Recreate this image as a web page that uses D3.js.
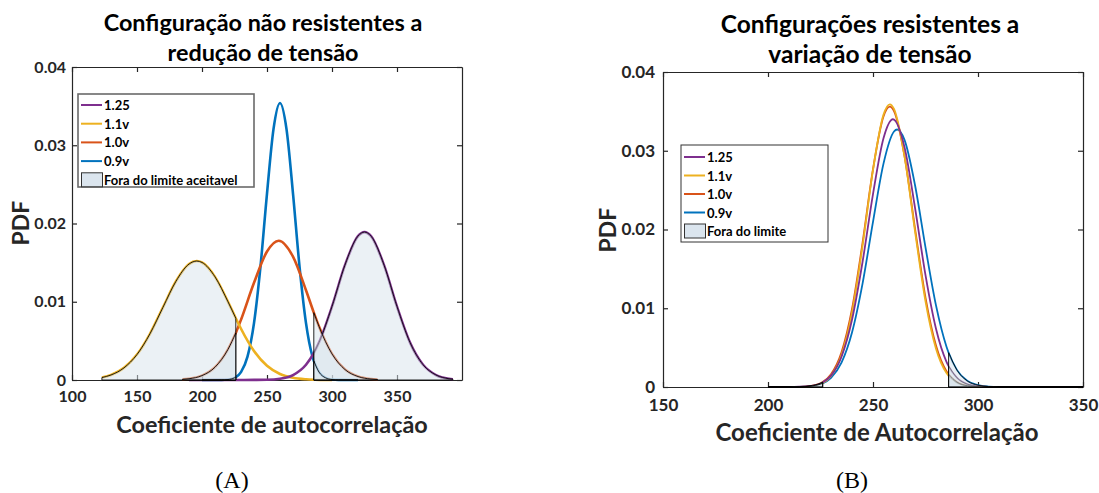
<!DOCTYPE html>
<html>
<head>
<meta charset="utf-8">
<script src="https://cdn.jsdelivr.net/npm/d3@7"></script>
<style>
body { margin: 0; background: #fff; }
</style>
</head>
<body>
<svg id="chart" width="1099" height="493"></svg>
<script>

var seriesNames = ["1.25", "1.1v", "1.0v", "0.9v"];
var yTicks = [0, 0.01, 0.02, 0.03, 0.04];
var leftXTicks = [100, 150, 200, 250, 300, 350];
var rightXTicks = [150, 200, 250, 300, 350];
var limits = [226, 286]; // "fora do limite" below / above these

// panel A, [coeficiente, pdf]
var leftPurple = [[190, 0], [220, 0], [226, 0], [240, 0.00001], [250, 0.00003], [260, 0.00016], [270, 0.00063], [280, 0.00195], [286, 0.00342], [290, 0.00478], [300, 0.00937], [310, 0.01468], [320, 0.01838], [325, 0.0189], [330, 0.01838], [340, 0.01468], [350, 0.00937], [360, 0.00478], [370, 0.00195], [380, 0.00063], [390, 0.00016], [393, 0.0001]];
var leftYellow = [[123, 0.00031], [130, 0.00064], [140, 0.00155], [150, 0.00325], [160, 0.00591], [170, 0.00929], [180, 0.01262], [190, 0.01481], [196, 0.0152], [200, 0.01502], [210, 0.01318], [220, 0.00999], [226, 0.00789], [230, 0.00655], [240, 0.00371], [250, 0.00182], [260, 0.00077], [270, 0.00028], [280, 0.00009], [286, 0.00004], [290, 0.00002], [300, 0]];
var leftOrange = [[185, 0.00008], [190, 0.00016], [200, 0.00056], [210, 0.00163], [220, 0.00391], [226, 0.00601], [230, 0.0077], [240, 0.01242], [250, 0.01642], [259, 0.0178], [270, 0.01577], [280, 0.01147], [286, 0.00861], [290, 0.00683], [300, 0.00333], [310, 0.00133], [320, 0.00044], [330, 0.00012], [335, 0.00006]];
var leftBlue = [[200, 0], [215, 0.00001], [220, 0.00006], [225, 0.00028], [226, 0.00037], [230, 0.00101], [235, 0.00298], [240, 0.00727], [245, 0.01453], [250, 0.02383], [255, 0.03206], [260, 0.0354], [265, 0.03206], [270, 0.02383], [275, 0.01453], [280, 0.00727], [285, 0.00298], [286, 0.00244], [290, 0.00101], [295, 0.00028], [300, 0.00006], [305, 0.00001], [320, 0]];

// panel B
var rightPurple = [[200, 0], [210, 0], [215, 0.00003], [220, 0.00012], [225, 0.00045], [226, 0.00058], [230, 0.00144], [235, 0.00384], [240, 0.00854], [245, 0.01584], [250, 0.02449], [255, 0.03159], [259.5, 0.034], [265, 0.03046], [270, 0.02278], [275, 0.0142], [280, 0.00739], [285, 0.0032], [286, 0.00265], [290, 0.00116], [295, 0.00035], [300, 0.00009], [305, 0.00002], [310, 0], [350, 0]];
var rightYellow = [[200, 0], [210, 0], [215, 0.00002], [220, 0.00009], [225, 0.0004], [226, 0.00052], [230, 0.00141], [235, 0.00403], [240, 0.00941], [245, 0.01786], [250, 0.02756], [255, 0.03459], [258, 0.0359], [260, 0.03531], [265, 0.02932], [270, 0.0198], [275, 0.01088], [280, 0.00486], [285, 0.00177], [286, 0.00141], [290, 0.00052], [295, 0.00013], [300, 0.00003], [310, 0], [350, 0]];
var rightOrange = [[200, 0], [210, 0], [215, 0.00002], [220, 0.00012], [225, 0.00048], [226, 0.00062], [230, 0.00161], [235, 0.0044], [240, 0.0099], [245, 0.01826], [250, 0.02765], [255, 0.03436], [258, 0.0356], [260, 0.03504], [265, 0.02933], [270, 0.02015], [275, 0.01136], [280, 0.00526], [285, 0.002], [286, 0.00161], [290, 0.00062], [295, 0.00016], [300, 0.00003], [310, 0], [350, 0]];
var rightBlue = [[200, 0], [210, 0], [215, 0.00002], [220, 0.0001], [225, 0.00037], [226, 0.00047], [230, 0.00117], [235, 0.00309], [240, 0.00692], [245, 0.0131], [250, 0.02097], [255, 0.02837], [260, 0.03245], [261.5, 0.0327], [265, 0.03138], [270, 0.02565], [275, 0.01773], [280, 0.01036], [285, 0.00512], [286, 0.00436], [290, 0.00214], [295, 0.00075], [300, 0.00023], [305, 0.00006], [310, 0.00001], [320, 0], [350, 0]];

var seriesColors = ["#7E2F8E", "#EDB120", "#D95319", "#0072BD"];
var axisColor = "#262626";
var tailFill = "#d8e3ec";
var sans = "Lato, 'Open Sans', sans-serif";

var svg = d3.select("#chart");
svg.append("rect").attr("width", 1099).attr("height", 493).attr("fill", "#fff");

renderPanel(svg, {
	xDomain: [100, 400], xTicks: leftXTicks,
	left: 72, right: 462, top: 67, bottom: 380,
	series: [leftPurple, leftYellow, leftOrange, leftBlue],
	lineWidth: 2.6,
	titles: ["Configuração não resistentes a", "redução de tensão"],
	titleX: 263, titleY: 31, titleSize: 23.4,
	xLabel: "Coeficiente de autocorrelação", xLabelX: 272, xLabelY: 424, xLabelSize: 23.4,
	tickSize: 16,
	pdfX: 20, pdfY: 223,
	xPad: 11, yPad: 6,
	legend: { x: 78, y: 94, w: 176, h: 93, rowY: 105, rowGap: 18.7, label: "Fora do limite aceitavel", stroke: "#6a6a6a", strokeWidth: 1.6 },
	caption: "(A)", captionX: 232
});

renderPanel(svg, {
	xDomain: [150, 350], xTicks: rightXTicks,
	left: 663, right: 1083, top: 72, bottom: 387,
	series: [rightPurple, rightYellow, rightOrange, rightBlue],
	lineWidth: 1.8,
	titles: ["Configurações resistentes a", "variação de tensão"],
	titleX: 870, titleY: 33, titleSize: 24.5,
	xLabel: "Coeficiente de Autocorrelação", xLabelX: 877, xLabelY: 431, xLabelSize: 24,
	tickSize: 17,
	pdfX: 607, pdfY: 230,
	xPad: 12, yPad: 8,
	legend: { x: 681, y: 145, w: 147, h: 97, rowY: 157, rowGap: 18.5, label: "Fora do limite", stroke: "#333", strokeWidth: 1 },
	caption: "(B)", captionX: 852
});

function renderPanel(svg, panel) {

	var xScale = d3.scaleLinear()
		.domain(panel.xDomain)
		.range([panel.left, panel.right]);

	var yScale = d3.scaleLinear()
		.domain([0, 0.04])
		.range([panel.bottom, panel.top]);

	var g = svg.append("g");

	drawAxes(g, xScale, yScale, panel);
	drawCurves(g, panel.series, xScale, yScale, panel.lineWidth);
	drawTails(g, panel.series, xScale, yScale);
	drawLegend(g, panel.legend);

	g.selectAll(".title")
		.data(panel.titles)
		.enter()
		.append("text")
		.attr("x", panel.titleX)
		.attr("y", (d, i) => panel.titleY + i * 30)
		.attr("text-anchor", "middle")
		.style("font-family", sans)
		.attr("font-size", panel.titleSize)
		.attr("font-weight", "bold")
		.attr("fill", "#000")
		.text(d => d);

	g.append("text")
		.attr("x", panel.xLabelX)
		.attr("y", panel.xLabelY)
		.attr("text-anchor", "middle")
		.attr("dominant-baseline", "central")
		.style("font-family", sans)
		.attr("font-size", panel.xLabelSize)
		.attr("font-weight", "bold")
		.attr("fill", axisColor)
		.text(panel.xLabel);

	g.append("text")
		.attr("transform", "translate(" + panel.pdfX + "," + panel.pdfY + ") rotate(-90)")
		.attr("text-anchor", "middle")
		.attr("dominant-baseline", "central")
		.style("font-family", sans)
		.attr("font-size", 23)
		.attr("font-weight", "bold")
		.attr("fill", axisColor)
		.text("PDF");

	g.append("text")
		.attr("x", panel.captionX)
		.attr("y", 480)
		.attr("text-anchor", "middle")
		.attr("dominant-baseline", "central")
		.style("font-family", "'Liberation Serif', 'DejaVu Serif', serif")
		.attr("font-size", 24)
		.attr("fill", "#000")
		.text(panel.caption);
}

function drawAxes(g, xScale, yScale, panel) {

	var bottom = d3.axisBottom(xScale).tickValues(panel.xTicks).tickSizeInner(-5).tickSizeOuter(0).tickPadding(panel.xPad);
	var left = d3.axisLeft(yScale).tickValues(yTicks).tickFormat(d => d === 0 ? "0" : d3.format(".2f")(d)).tickSizeInner(-5).tickSizeOuter(0).tickPadding(panel.yPad);
	var top = d3.axisTop(xScale).tickValues(panel.xTicks).tickFormat("").tickSizeInner(-5).tickSizeOuter(0);
	var right = d3.axisRight(yScale).tickValues(yTicks).tickFormat("").tickSizeInner(-5).tickSizeOuter(0);

	var axes = [
		[bottom, "translate(0," + panel.bottom + ")"],
		[left, "translate(" + panel.left + ",0)"],
		[top, "translate(0," + panel.top + ")"],
		[right, "translate(" + panel.right + ",0)"]
	];

	axes.forEach(a => {
		var ag = g.append("g").attr("transform", a[1]).call(a[0]);
		ag.selectAll("path, line").attr("stroke", axisColor).attr("stroke-width", 1.2);
		ag.selectAll("text")
			.attr("font-size", panel.tickSize)
			.attr("font-weight", "bold")
			.attr("fill", axisColor)
			.style("font-family", sans);
	});
}

function drawCurves(g, series, xScale, yScale, lineWidth) {

	var line = d3.line()
		.x(d => xScale(d[0]))
		.y(d => yScale(d[1]))
		.curve(d3.curveMonotoneX);

	// blue first, purple last
	var order = [3, 2, 1, 0];

	order.forEach(i => {
		g.append("path")
			.datum(series[i])
			.attr("d", line)
			.attr("fill", "none")
			.attr("stroke", seriesColors[i])
			.attr("stroke-width", lineWidth)
			.attr("stroke-linejoin", "round");
	});
}

function drawTails(g, series, xScale, yScale) {

	var area = d3.area()
		.x(d => xScale(d[0]))
		.y0(yScale(0))
		.y1(d => yScale(d[1]))
		.curve(d3.curveMonotoneX);

	series.forEach(s => {

		var lower = s.filter(d => d[0] <= limits[0]);
		var upper = s.filter(d => d[0] >= limits[1]);

		[lower, upper].forEach(part => {

			if (part.length < 2) {
				return;
			}

			g.append("path")
				.datum(part)
				.attr("d", area)
				.attr("fill", tailFill)
				.attr("fill-opacity", 0.5)
				.attr("stroke", "#000")
				.attr("stroke-opacity", 0.85)
				.attr("stroke-width", 1);
		});
	});
}

function drawLegend(g, legend) {

	var lg = g.append("g");

	lg.append("rect")
		.attr("x", legend.x)
		.attr("y", legend.y)
		.attr("width", legend.w)
		.attr("height", legend.h)
		.attr("fill", "#fff")
		.attr("stroke", legend.stroke)
		.attr("stroke-width", legend.strokeWidth);

	var labels = seriesNames.concat([legend.label]);

	var rows = lg.selectAll(".row")
		.data(labels)
		.enter()
		.append("g")
		.attr("transform", (d, i) => "translate(" + legend.x + "," + (legend.rowY + i * legend.rowGap) + ")");

	rows.filter((d, i) => i < 4)
		.append("line")
		.attr("x1", 3)
		.attr("x2", 24)
		.attr("y1", 0)
		.attr("y2", 0)
		.attr("stroke", (d, i) => seriesColors[i])
		.attr("stroke-width", 2);

	rows.filter((d, i) => i === 4)
		.append("rect")
		.attr("x", 3.5)
		.attr("y", -7)
		.attr("width", 21)
		.attr("height", 14)
		.attr("fill", "#dbe5ee")
		.attr("stroke", "#333")
		.attr("stroke-width", 1);

	rows.append("text")
		.attr("x", 26)
		.attr("y", 0)
		.attr("dominant-baseline", "central")
		.style("font-family", sans)
		.attr("font-size", 13)
		.attr("font-weight", "bold")
		.attr("fill", "#000")
		.text(d => d);
}

</script>
</body>
</html>
